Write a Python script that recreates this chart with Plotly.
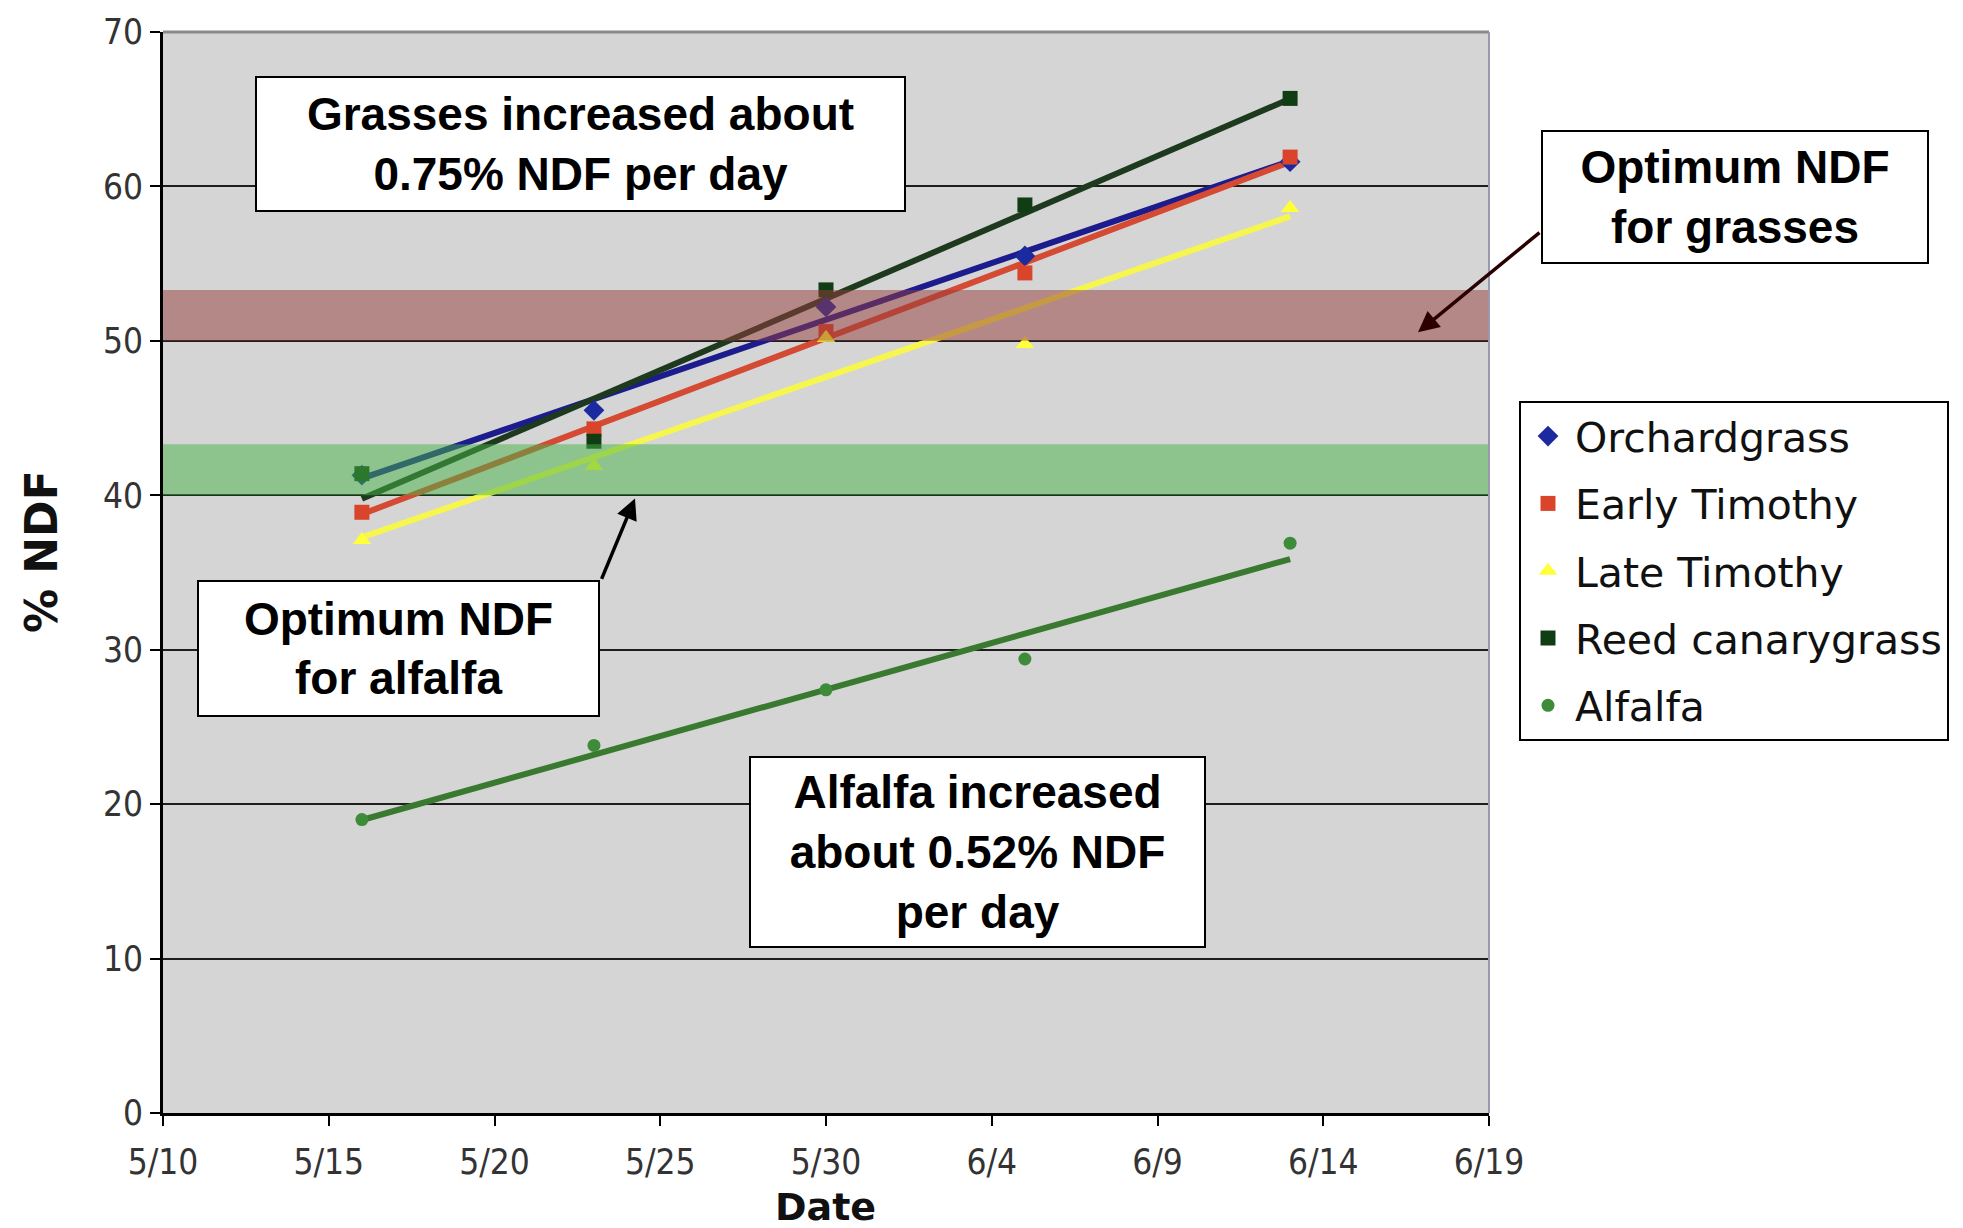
import numpy as np
import pandas as pd
import plotly.graph_objects as go

# Sampling dates and measured NDF (%) for each forage
dates = ["2008-05-16", "2008-05-23", "2008-05-30", "2008-06-05", "2008-06-13"]
orchardgrass = [41.3, 45.5, 52.2, 55.5, 61.6]
early_timothy = [38.9, 44.3, 50.6, 54.4, 61.9]
late_timothy = [37.1, 41.9, 50.2, 49.8, 58.6]
reed_canarygrass = [41.4, 43.5, 53.3, 58.8, 65.7]
alfalfa = [19.0, 23.8, 27.4, 29.4, 36.9]

# Optimum NDF ranges
grass_band = [50, 53.3]
alfalfa_band = [40, 43.3]

x_ticks = ["2008-05-10", "2008-05-15", "2008-05-20", "2008-05-25", "2008-05-30",
           "2008-06-04", "2008-06-09", "2008-06-14", "2008-06-19"]
x_ticktext = ["5/10", "5/15", "5/20", "5/25", "5/30", "6/4", "6/9", "6/14", "6/19"]
y_ticks = [0, 10, 20, 30, 40, 50, 60, 70]

series = [
    ("Orchardgrass", orchardgrass, "diamond", "#1B2A9E", "#1C1C8E", 16),
    ("Early Timothy", early_timothy, "square", "#D9442A", "#D44A32", 15),
    ("Late Timothy", late_timothy, "triangle-up", "#FFFF3A", "#F6F64E", 16),
    ("Reed canarygrass", reed_canarygrass, "square", "#113D14", "#1E3A1E", 15),
    ("Alfalfa", alfalfa, "circle", "#3E8B3A", "#3A7A30", 13),
]

# plot-area geometry in pixels
W, H = 1963, 1228
L, R, T, B = 163, 1489, 26, 1113


def px(x):
    return (x - L) / (R - L)


def py(y):
    return (B - y) / (B - T)


dt = pd.to_datetime(dates)
days = np.array((dt - dt[0]).days, dtype=float)

fig = go.Figure()

# linear trend lines
for name, vals, sym, mcol, lcol, msz in series:
    k, b0 = np.polyfit(days, np.array(vals), 1)
    ends = [days[0], days[-1]]
    fig.add_trace(go.Scatter(
        x=[dt[0], dt[-1]], y=[k * d + b0 for d in ends], mode="lines",
        line=dict(color=lcol, width=6), showlegend=False, hoverinfo="skip"))

# measured points
for i, (name, vals, sym, mcol, lcol, msz) in enumerate(series):
    fig.add_trace(go.Scatter(
        x=dates, y=vals, mode="markers", name=name, legendgroup=f"g{i}",
        marker=dict(symbol=sym, color=mcol, size=msz, line=dict(width=0))))

shapes = [
    dict(type="rect", xref="paper", yref="y", x0=0, x1=1, y0=grass_band[0], y1=grass_band[1],
         fillcolor="rgba(150,60,60,0.5)", line=dict(width=0), layer="above"),
    dict(type="rect", xref="paper", yref="y", x0=0, x1=1, y0=alfalfa_band[0], y1=alfalfa_band[1],
         fillcolor="rgba(70,180,70,0.5)", line=dict(width=0), layer="above"),
    dict(type="line", xref="paper", yref="paper", x0=0, x1=1, y0=1, y1=1,
         line=dict(color="#8A8A8A", width=3), layer="above"),
    dict(type="line", xref="paper", yref="paper", x0=1, x1=1, y0=0, y1=1,
         line=dict(color="#9A9AAE", width=2), layer="above"),
]

box_font = dict(family="Liberation Sans, Arial, sans-serif", size=46, color="black")


def box(text, x0, x1, y0, y1):
    bw = 2
    return dict(xref="paper", yref="paper", x=px((x0 + x1) / 2), y=py((y0 + y1) / 2),
                xanchor="center", yanchor="middle", text=text, showarrow=False,
                font=box_font, bgcolor="white", bordercolor="black", borderwidth=bw,
                borderpad=0, width=x1 - x0 - 2 * bw, height=y1 - y0 - 2 * bw, align="center")


annotations = [
    box("<b>Grasses increased about<br>0.75% NDF per day</b>", 255, 906, 71, 207),
    box("<b>Optimum NDF<br>for grasses</b>", 1541, 1929, 125, 259),
    box("<b>Optimum NDF<br>for alfalfa</b>", 197, 600, 577, 714),
    box("<b>Alfalfa increased<br>about 0.52% NDF<br>per day</b>", 749, 1206, 755, 947),
    dict(xref="paper", yref="paper", x=px(1418), y=py(328), ax=123, ay=-101, text="",
         showarrow=True, arrowhead=2, arrowsize=1.2, arrowwidth=3.5, arrowcolor="#2A0000"),
    dict(xref="paper", yref="paper", x=px(635), y=py(495), ax=-34, ay=82, text="",
         showarrow=True, arrowhead=2, arrowsize=1.2, arrowwidth=3.5, arrowcolor="black"),
    dict(xref="paper", yref="paper", x=px(825), y=py(1208), text="<b>Date</b>", showarrow=False,
         xanchor="center", yanchor="middle",
         font=dict(family="DejaVu Sans", size=38, color="#111")),
    dict(xref="paper", yref="paper", x=px(41), y=py(548), text="<b>% NDF</b>", showarrow=False,
         xanchor="center", yanchor="middle", textangle=-90,
         font=dict(family="DejaVu Sans", size=44, color="#111")),
]

tick_font = dict(family="DejaVu Sans Condensed, DejaVu Sans", size=35, color="#333")

fig.update_layout(
    width=W, height=H,
    margin=dict(l=L, r=W - R, t=T, b=H - B, pad=0),
    paper_bgcolor="white", plot_bgcolor="#D5D5D5",
    shapes=shapes, annotations=annotations,
    showlegend=True,
    legend=dict(x=px(1519), y=py(397), xanchor="left", yanchor="top",
                bgcolor="white", bordercolor="black", borderwidth=2,
                font=dict(family="DejaVu Sans", size=41, color="#111"),
                tracegroupgap=11, itemsizing="trace", itemwidth=44),
    xaxis=dict(type="date", range=["2008-05-10", "2008-06-19"],
               tickvals=x_ticks, ticktext=x_ticktext,
               showgrid=False, zeroline=False,
               showline=True, linecolor="black", linewidth=3,
               ticks="outside", ticklen=10, tickwidth=2, tickcolor="black",
               ticklabelstandoff=6, tickfont=tick_font),
    yaxis=dict(range=[0, 70], tickvals=y_ticks,
               showgrid=True, gridcolor="#1E1E1E", gridwidth=2, zeroline=False,
               showline=True, linecolor="black", linewidth=3,
               ticks="outside", ticklen=10, tickwidth=2, tickcolor="black",
               tickfont=tick_font),
)

fig.write_html("out.html")
